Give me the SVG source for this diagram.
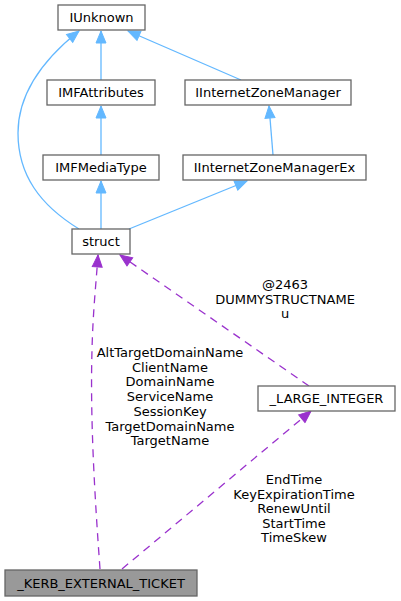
<svg xmlns="http://www.w3.org/2000/svg" width="401" height="601" viewBox="0 0 401 601">
<style>
text{font-family:"DejaVu Sans",sans-serif;font-size:13px;fill:#000;text-anchor:middle}
.n rect{fill:#fff;stroke:#666;stroke-width:1.3}
.n.cur rect{fill:#999}
.inh{fill:none;stroke:#63b8ff;stroke-width:1.3}
.use{fill:none;stroke:#9a32cd;stroke-width:1.3;stroke-dasharray:8,6}
</style>
<defs>
<marker id="ab" markerUnits="userSpaceOnUse" markerWidth="14" markerHeight="12" refX="13" refY="6" orient="auto"><path d="M1,1 L13,6 L1,11 z" fill="#63b8ff" stroke="#63b8ff"/></marker>
<marker id="ap" markerUnits="userSpaceOnUse" markerWidth="14" markerHeight="12" refX="13" refY="6" orient="auto"><path d="M1,1 L13,6 L1,11 z" fill="#9a32cd" stroke="#9a32cd"/></marker>
</defs>
<g id="edges">
<path class="inh" d="M101,80 L101,31" marker-end="url(#ab)"/>
<path class="inh" d="M101,155 L101,106" marker-end="url(#ab)"/>
<path class="inh" d="M241,80 L128,31" marker-end="url(#ab)"/>
<path class="inh" d="M273,155 L269,106" marker-end="url(#ab)"/>
<path class="inh" d="M101,229 L101,181" marker-end="url(#ab)"/>
<path class="inh" d="M129,229 L247,181" marker-end="url(#ab)"/>
<path class="inh" d="M79,229 C40,205 18,175 18,133 C18,95 40,62 79,31" marker-end="url(#ab)"/>
<path class="use" d="M100,569 C95,500 90,420 92,350 C93,310 96,285 98,255" marker-end="url(#ap)"/>
<path class="use" d="M122,569 L311,411" marker-end="url(#ap)"/>
<path class="use" d="M309,386 L120,255" marker-end="url(#ap)"/>
<text x="285" y="289">@2463</text>
<text x="285" y="304">DUMMYSTRUCTNAME</text>
<text x="285" y="318">u</text>
<text x="170" y="357">AltTargetDomainName</text>
<text x="170" y="371.7">ClientName</text>
<text x="170" y="386.4">DomainName</text>
<text x="170" y="401.1">ServiceName</text>
<text x="170" y="415.8">SessionKey</text>
<text x="170" y="430.5">TargetDomainName</text>
<text x="170" y="445.2">TargetName</text>
<text x="294" y="484">EndTime</text>
<text x="294" y="498.6">KeyExpirationTime</text>
<text x="294" y="513.2">RenewUntil</text>
<text x="294" y="527.8">StartTime</text>
<text x="294" y="542.4">TimeSkew</text>
</g>
<g id="IUnknown" class="n"><rect x="58" y="5" width="87" height="25"/><text x="101.5" y="22">IUnknown</text></g>
<g id="IMFAttributes" class="n"><rect x="47" y="80" width="108" height="25"/><text x="101" y="97">IMFAttributes</text></g>
<g id="IInternetZoneManager" class="n"><rect x="185" y="80" width="166" height="25"/><text x="268" y="97">IInternetZoneManager</text></g>
<g id="IMFMediaType" class="n"><rect x="43" y="155" width="116" height="25"/><text x="101" y="172">IMFMediaType</text></g>
<g id="IInternetZoneManagerEx" class="n"><rect x="183" y="155" width="183" height="25"/><text x="274.5" y="172">IInternetZoneManagerEx</text></g>
<g id="struct" class="n"><rect x="72" y="229" width="58" height="25"/><text x="101" y="246">struct</text></g>
<g id="LARGE_INTEGER" class="n"><rect x="258" y="386" width="137" height="25"/><text x="326.5" y="403">_LARGE_INTEGER</text></g>
<g id="KERB_EXTERNAL_TICKET" class="n cur"><rect x="5" y="570" width="192" height="26"/><text x="101" y="588">_KERB_EXTERNAL_TICKET</text></g>
</svg>
